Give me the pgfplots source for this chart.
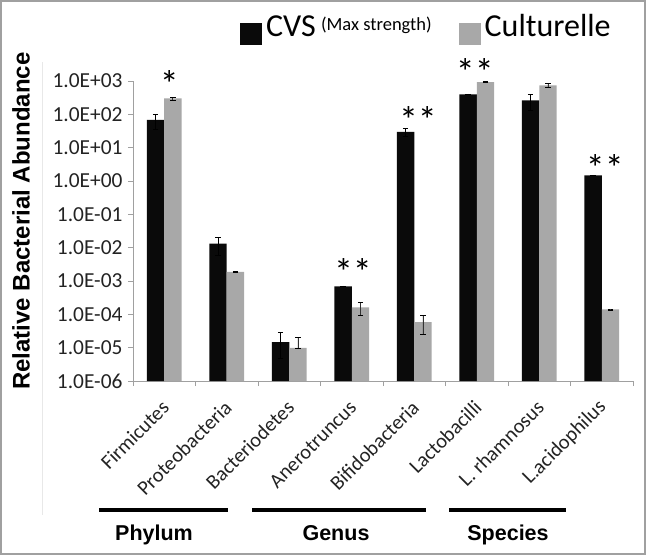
\documentclass[border=0pt]{standalone}
\usepackage{pgfplots}
\pgfplotsset{compat=1.18}
\usepackage{pgfplotstable}
\usepackage{fontspec}
\setmainfont{Carlito}
\newfontfamily\arial{Liberation Sans}
\definecolor{barblack}{RGB}{10,10,10}
\definecolor{bargray}{RGB}{168,168,168}
\definecolor{axgray}{RGB}{160,160,160}
\definecolor{txt}{RGB}{35,35,35}

\pgfplotstableread{
x y ep em
0 68 32 32
1 0.0132 0.0072 0.0072
2 1.48e-5 1.32e-5 1.0e-5
3 6.9e-4 0.2e-4 0.2e-4
4 30 8 8
5 400 8 8
6 264 136 136
7 1.47 0.03 0.03
}\cvs
\pgfplotstableread{
x y ep em
0 300 30 30
1 0.00187 0.00006 0.00006
2 9.8e-6 1.1e-5 0.2e-6
3 1.62e-4 0.68e-4 0.71e-4
4 5.8e-5 3.3e-5 3.3e-5
5 930 12 12
6 744 106 124
7 1.4e-4 0.05e-4 0.05e-4
}\cult

\begin{document}
\begin{tikzpicture}
\draw[axgray, line width=1.6pt] (0.8pt,-0.8pt) rectangle (645.2pt,-554.2pt);
\draw[gray!18, line width=0.8pt] (42pt,-62pt) -- (42pt,-515pt);
\begin{axis}[
  at={(133pt,-381pt)}, anchor=south west,
  width=500pt, height=300pt, scale only axis,
  xmin=-0.5, xmax=7.5,
  ymode=log, ymin=1e-6, ymax=1e3,
  log origin y=infty,
  axis x line*=bottom, axis y line*=left,
  axis line style={axgray, line width=0.8pt},
  ybar=0pt, bar width=17.4pt,
  clip=false,
  tick align=outside,
  xtick={0,...,7},
  xticklabels={Firmicutes,Proteobacteria,Bacteriodetes,Anerotruncus,Bifidobacteria,Lactobacilli,L. rhamnosus,L.acidophilus},
  minor xtick={-0.5,0.5,...,7.5},
  major x tick style={draw=none},
  minor x tick style={axgray, line width=0.8pt},
  minor tick length=5pt,
  major tick length=5pt,
  y tick style={axgray, line width=0.8pt},
  yminorticks=false,
  ytick={1e-6,1e-5,1e-4,1e-3,1e-2,1e-1,1e0,1e1,1e2,1e3},
  yticklabels={1.0E-06,1.0E-05,1.0E-04,1.0E-03,1.0E-02,1.0E-01,1.0E+00,1.0E+01,1.0E+02,1.0E+03},
  yticklabel style={font=\fontsize{21.4}{21.4}\selectfont, text=txt, xshift=-2pt},
  xticklabel style={font=\fontsize{20.5}{20.5}\selectfont, text=txt, xshift=3.7pt, yshift=-15.8pt, rotate=45, anchor=east},
  ylabel={Relative Bacterial Abundance},
  every axis y label/.style={at={(axis description cs:-0.224,0.533)}, rotate=90, anchor=center, font=\arial\bfseries\fontsize{24}{24}\selectfont},
  legend columns=2,
  legend image code/.code={\fill[#1] (0pt,-18pt) rectangle (22pt,4pt);},
  legend style={draw=none, fill=none, inner sep=0pt, outer sep=0pt,
    at={(axis description cs:0.214,1.221)}, anchor=north west,
    font=\fontsize{32}{32}\selectfont,
    /tikz/every odd column/.append style={column sep=4pt},
    /tikz/every even column/.append style={column sep=27pt},
    nodes={inner sep=0pt}},
  legend cell align=left,
  error bars/error bar style={black, line width=0.9pt},
  error bars/error mark options={black, rotate=90, mark size=2.6pt, line width=0.9pt},
]
\addplot[fill=barblack, draw=none, error bars/.cd, y dir=both, y explicit]
  table[x=x, y=y, y error plus=ep, y error minus=em]{\cvs};
\addlegendentry{CVS\,\raisebox{5.5pt}{\fontsize{18.5}{18.5}\selectfont (Max strength)}}
\addplot[fill=bargray, draw=none, error bars/.cd, y dir=both, y explicit, error bar style={black!80}]
  table[x=x, y=y, y error plus=ep, y error minus=em]{\cult};
\addlegendentry{Culturelle}
\node[font=\fontsize{38}{38}\selectfont, yshift=-7pt] at (axis cs:0.08,1318) {*};
\node[font=\fontsize{38}{38}\selectfont, yshift=-7pt] at (axis cs:3.02,3.1e-3) {**};
\node[font=\fontsize{38}{38}\selectfont, yshift=-7pt] at (axis cs:4.06,110) {**};
\node[font=\fontsize{38}{38}\selectfont, yshift=-7pt] at (axis cs:4.97,3013) {**};
\node[font=\fontsize{38}{38}\selectfont, yshift=-7pt] at (axis cs:7.05,4.03) {**};
\end{axis}
\draw[line width=4pt] (99pt,-510pt) -- (228pt,-510pt);
\draw[line width=4pt] (252pt,-510pt) -- (426pt,-510pt);
\draw[line width=4pt] (449pt,-510pt) -- (566pt,-510pt);
\node[font=\arial\bfseries\fontsize{21.5}{21.5}\selectfont, anchor=base] at (154pt,-540pt) {Phylum};
\node[font=\arial\bfseries\fontsize{21.5}{21.5}\selectfont, anchor=base] at (336pt,-540pt) {Genus};
\node[font=\arial\bfseries\fontsize{21.5}{21.5}\selectfont, anchor=base] at (508pt,-540pt) {Species};
\end{tikzpicture}
\end{document}
